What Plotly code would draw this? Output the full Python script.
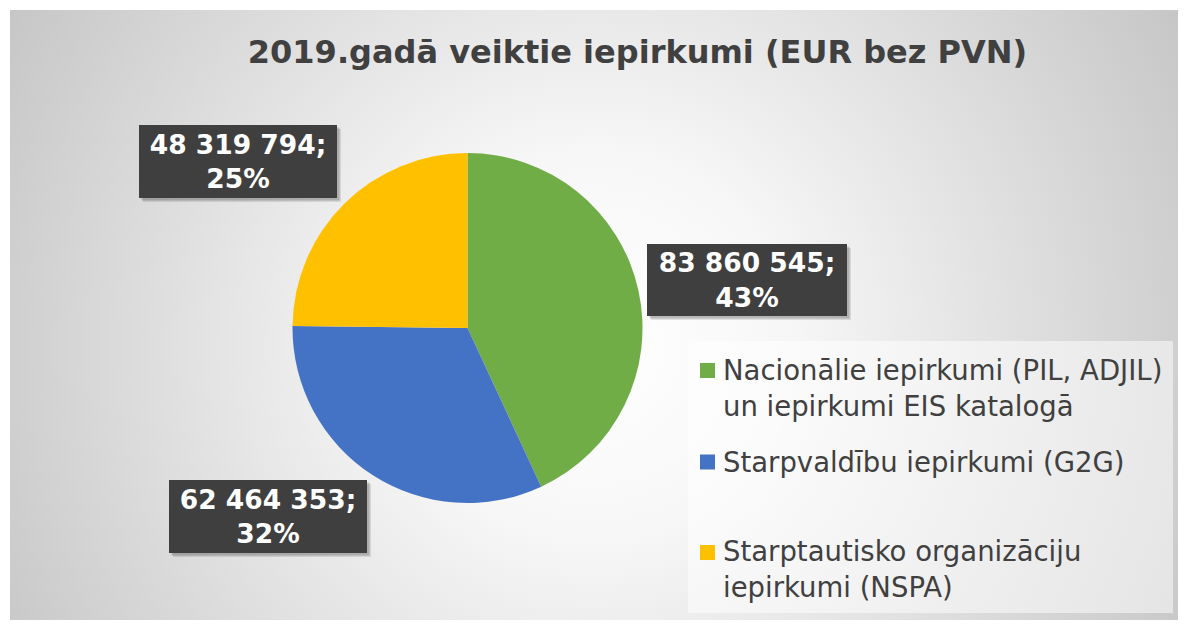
import base64
import plotly.graph_objects as go

# ---------------- data ----------------
categories = [
    "Nacionālie iepirkumi (PIL, ADJIL) un iepirkumi EIS katalogā",
    "Starpvaldību iepirkumi (G2G)",
    "Starptautisko organizāciju iepirkumi (NSPA)",
]
legend_texts = [
    "Nacionālie iepirkumi (PIL, ADJIL)<br>un iepirkumi EIS katalogā",
    "Starpvaldību iepirkumi (G2G)",
    "Starptautisko organizāciju<br>iepirkumi (NSPA)",
]
values = [83860545, 62464353, 48319794]
colors = ["#70AD47", "#4472C4", "#FFC000"]
title_text = "2019.gadā veiktie iepirkumi (EUR bez PVN)"

# ---------------- layout helpers ----------------
OFF = 8                      # page body margin
W, H = 1186 - 2 * OFF, 628 - 2 * OFF


def px(x):
    return (x - OFF) / W


def py(y):
    return 1 - (y - OFF) / H


FONT = "DejaVu Sans, Verdana, sans-serif"

# radial gradient background as an inline SVG image
box = (10, 10, 1178, 620)
bw, bh = box[2] - box[0], box[3] - box[1]
svg = f"""<svg xmlns='http://www.w3.org/2000/svg' width='{bw}' height='{bh}' viewBox='0 0 {bw} {bh}'>
<defs><radialGradient id='g' gradientUnits='userSpaceOnUse' cx='{bw*0.5}' cy='{bh*0.55}' r='{bw*0.58}'>
<stop offset='0' stop-color='#ffffff'/><stop offset='0.28' stop-color='#f7f7f7'/>
<stop offset='1' stop-color='#c6c6c6'/></radialGradient></defs>
<rect width='{bw}' height='{bh}' fill='url(#g)'/></svg>"""
bg_src = "data:image/svg+xml;base64," + base64.b64encode(svg.encode()).decode()

fig = go.Figure()

# pie: center (467, 328), radius 175 px
fig.add_trace(
    go.Pie(
        labels=categories,
        values=values,
        marker=dict(colors=colors, line=dict(width=0)),
        sort=False,
        direction="clockwise",
        rotation=0,
        textinfo="none",
        hoverinfo="label+value+percent",
        showlegend=False,
        domain=dict(x=[px(292), px(643)], y=[py(503), py(153)]),
    )
)

total = sum(values)
label_texts = [
    f"{v:,}".replace(",", " ") + ";<br>" + f"{round(v / total * 100)}%" for v in values
]
# label boxes (left, top, right, bottom) in page px
label_boxes = [(647, 244, 847, 316), (169, 480, 367, 553), (139, 125, 337, 198)]

shapes = []
annotations = []
for t, (l, tp, r, b) in zip(label_texts, label_boxes):
    for off, a in ((4, 0.10), (2.5, 0.18)):
        shapes.append(
            dict(
                type="rect", xref="paper", yref="paper",
                x0=px(l + off), x1=px(r + off), y0=py(b + off), y1=py(tp + off),
                fillcolor=f"rgba(0,0,0,{a})", line=dict(width=0), layer="above",
            )
        )
    annotations.append(
        dict(
            text=f"<b>{t}</b>", xref="paper", yref="paper",
            x=px((l + r) / 2), y=py((tp + b) / 2), xanchor="center", yanchor="middle",
            width=r - l, height=b - tp, bgcolor="#3f3f3f", borderpad=0, borderwidth=0,
            showarrow=False, align="center",
            font=dict(family=FONT, size=26.5, color="#ffffff"),
        )
    )

# manual legend
shapes.append(
    dict(
        type="rect", xref="paper", yref="paper",
        x0=px(688), x1=px(1173), y0=py(613), y1=py(341),
        fillcolor="rgba(255,255,255,0.5)", line=dict(width=0), layer="below",
    )
)
legend_sq_top = [363, 454.5, 545]
legend_txt_mid = [388, 462, 569]
for c, t, sq, ym in zip(colors, legend_texts, legend_sq_top, legend_txt_mid):
    shapes.append(
        dict(
            type="rect", xref="paper", yref="paper",
            x0=px(700), x1=px(715), y0=py(sq + 15), y1=py(sq),
            fillcolor=c, line=dict(width=0), layer="above",
        )
    )
    annotations.append(
        dict(
            text=t, xref="paper", yref="paper", x=px(721), y=py(ym),
            xanchor="left", yanchor="middle", align="left", showarrow=False,
            font=dict(family=FONT, size=27.5, color="#404040"),
        )
    )

fig.update_layout(
    width=W,
    height=H,
    margin=dict(l=0, r=0, t=0, b=0),
    paper_bgcolor="#ffffff",
    plot_bgcolor="rgba(0,0,0,0)",
    title=dict(
        text=f"<b>{title_text}</b>", x=px(637.5), y=py(52), xref="paper", yref="paper",
        xanchor="center", yanchor="middle",
        font=dict(family=FONT, size=32, color="#404040"),
    ),
    images=[
        dict(
            source=bg_src, xref="paper", yref="paper",
            x=px(box[0]), y=py(box[1]), sizex=bw / W, sizey=bh / H,
            xanchor="left", yanchor="top", sizing="stretch", layer="below",
        )
    ],
    shapes=shapes,
    annotations=annotations,
)

fig.write_html("out.html")
